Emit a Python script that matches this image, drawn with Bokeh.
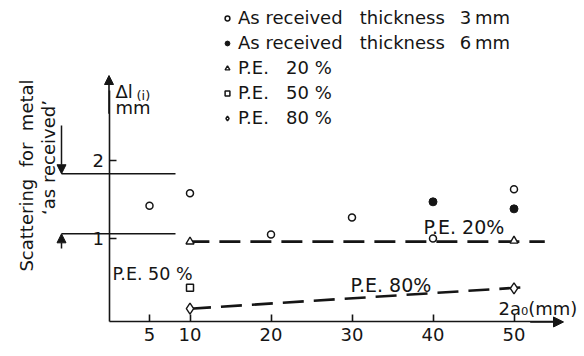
from bokeh.plotting import figure
from bokeh.models import (Range1d, LinearAxis, FixedTicker, Label, Arrow, NormalHead,
                          Legend, LegendItem)
from bokeh.core.properties import value
from bokeh.embed import file_html
from bokeh.resources import INLINE
import math

# ---------------- data ----------------
x_as3 = [5, 10, 20, 30, 40, 50]
y_as3 = [1.42, 1.58, 1.05, 1.27, 1.00, 1.63]
x_as6 = [40, 50]
y_as6 = [1.47, 1.38]
x_pe20 = [10, 50]
y_pe20 = [0.96, 0.97]
x_pe50 = [10]
y_pe50 = [0.37]
x_pe80 = [10, 50]
y_pe80 = [0.10, 0.36]
fit20_x = [9.8, 53.8]
fit20_y = [0.96, 0.96]
fit80_x = [10, 52]
fit80_y = [0.10, 0.38]
scatter_band = [1.06, 1.83]          # "as received" scattering limits
x_ticks = [5, 10, 20, 30, 40, 50]
y_ticks = [1, 2]
legend_labels = [
    "As received\u00a0\u00a0\u00a0thickness\u00a0\u00a0\u20093\u2009mm",
    "As received\u00a0\u00a0\u00a0thickness\u00a0\u00a0\u20096\u2009mm",
    "P.E.\u00a0\u00a0\u00a020 %",
    "P.E.\u00a0\u00a0\u00a050 %",
    "P.E.\u00a0\u00a0\u00a080 %",
]

# ---------------- layout helpers ----------------
W, H = 584, 356
X0, SX = 108.5, 8.1     # pixel of x=0, pixels per unit
Y0, SY = 316.0, 78.0    # pixel of y=0, pixels per unit


def dx(px):
    return (px - X0) / SX


def dy(py):
    return (Y0 - py) / SY


INK = "#151515"
FONT = "DejaVu Sans"

p = figure(width=W, height=H, output_backend="svg", toolbar_location=None,
           x_range=Range1d(dx(0), dx(W)), y_range=Range1d(dy(H), dy(0)),
           x_axis_type=None, y_axis_type=None, min_border=0)
p.outline_line_color = None
p.xgrid.visible = False
p.ygrid.visible = False
p.background_fill_color = "white"

X_AXIS_AT = -0.07

yax = LinearAxis(fixed_location=0, ticker=FixedTicker(ticks=y_ticks),
                 bounds=(X_AXIS_AT, 2.9), major_tick_in=7, major_tick_out=0,
                 minor_tick_line_color=None, axis_line_width=1.6, axis_line_color=INK,
                 major_tick_line_width=1.6, major_tick_line_color=INK,
                 major_label_text_font=FONT, major_label_text_font_size="18px",
                 major_label_text_color=INK, major_label_standoff=5)
p.add_layout(yax, "left")

xax = LinearAxis(fixed_location=X_AXIS_AT, ticker=FixedTicker(ticks=x_ticks),
                 bounds=(0, 55), major_tick_in=7, major_tick_out=0,
                 minor_tick_line_color=None, axis_line_width=1.6, axis_line_color=INK,
                 major_tick_line_width=1.6, major_tick_line_color=INK,
                 major_label_text_font=FONT, major_label_text_font_size="18px",
                 major_label_text_color=INK, major_label_standoff=6)
p.add_layout(xax, "below")

# axis arrows
p.add_layout(Arrow(x_start=0, y_start=2.6, x_end=0, y_end=dy(75),
                   line_width=1.6, line_color=INK,
                   end=NormalHead(size=9, fill_color=INK, line_color=INK)))
p.add_layout(Arrow(x_start=52, y_start=X_AXIS_AT, x_end=dx(563), y_end=X_AXIS_AT,
                   line_width=1.6, line_color=INK,
                   end=NormalHead(size=10, fill_color=INK, line_color=INK)))

# fitted dashed lines
p.line(fit20_x, fit20_y, line_color=INK, line_width=2.6, line_dash="21 10")
p.line(fit80_x, fit80_y, line_color=INK, line_width=2.6, line_dash="21 10")

# scattering band
band_x0, band_x1 = dx(61), dx(175)
p.segment(x0=[band_x0, band_x0], y0=scatter_band, x1=[band_x1, band_x1], y1=scatter_band,
          line_color=INK, line_width=1.5)
p.add_layout(Arrow(x_start=band_x0, y_start=dy(125), x_end=band_x0, y_end=scatter_band[1],
                   line_width=1.5, line_color=INK,
                   end=NormalHead(size=9, fill_color=INK, line_color=INK)))
p.add_layout(Arrow(x_start=band_x0, y_start=dy(248), x_end=band_x0, y_end=scatter_band[0],
                   line_width=1.5, line_color=INK,
                   end=NormalHead(size=9, fill_color=INK, line_color=INK)))

# markers
r_as3 = p.scatter(x_as3, y_as3, marker="circle", size=7, line_color=INK, line_width=1.5,
                  fill_color="white")
r_as6 = p.scatter(x_as6, y_as6, marker="circle", size=8, line_color=INK, fill_color=INK)
r_pe20 = p.scatter(x_pe20, y_pe20, marker="triangle", size=8, line_color=INK, line_width=1.4,
                   fill_color="white")
r_pe50 = p.scatter(x_pe50, y_pe50, marker="square", size=7, line_color=INK, line_width=1.5,
                   fill_color="white")
r_pe80 = p.scatter(x_pe80, y_pe80, marker="diamond", size=11, line_color=INK, line_width=1.4,
                   fill_color="white")

legend = Legend(items=[LegendItem(label=value(t), renderers=[r]) for t, r in
                       zip(legend_labels, [r_as3, r_as6, r_pe20, r_pe50, r_pe80])],
                location=(221, 228), orientation="vertical",
                glyph_width=12, glyph_height=20, label_height=20, spacing=4,
                padding=0, margin=0, label_standoff=5,
                border_line_color=None, background_fill_alpha=0,
                label_text_font=FONT, label_text_font_size="18px",
                label_text_color=INK)
p.add_layout(legend, "center")


def lab(px, py, text, size="18px", **kw):
    # (px, py): left edge / vertical middle in pixels
    p.add_layout(Label(x=dx(px), y=dy(py), text=text, text_font=FONT,
                       text_font_size=size, text_color=INK,
                       text_baseline="middle", **kw))


lab(423, 226, "P.E. 20%", size="19px")
lab(350, 284, "P.E. 80%", size="19px")
lab(112, 273, "P.E. 50 %", size="17.5px")
lab(498, 308, "2a\u2080(mm)")
lab(115, 91, "\u0394l")
lab(136, 95, "(i)", size="13px")
lab(115, 107, "mm")
lab(26, 175, "Scattering\u00a0\u00a0for\u00a0\u00a0metal", angle=math.pi / 2, text_align="center")
lab(48, 157, "\u2018as received\u2019", angle=math.pi / 2, text_align="center")

open("out.html", "w").write(file_html(p, INLINE))
